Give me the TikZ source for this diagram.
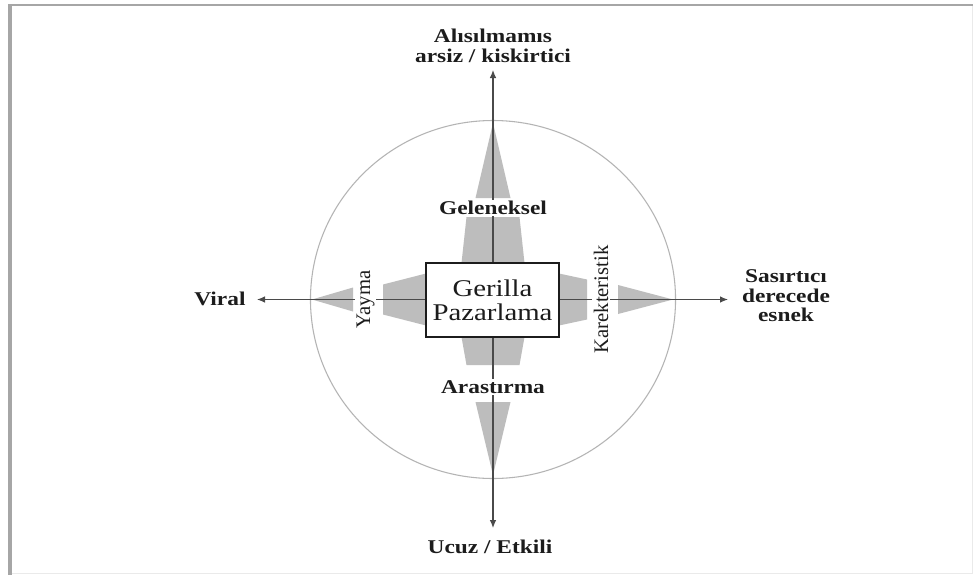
\documentclass[tikz,border=0pt]{standalone}
\usepackage{fontspec}
\setmainfont{Liberation Serif}
\newfontfamily\widefont{Liberation Serif}[FakeStretch=1.2]
\usetikzlibrary{arrows.meta}

\definecolor{axisgray}{HTML}{4A4A4A}
\definecolor{spike}{HTML}{BDBDBD}
\definecolor{ring}{HTML}{B4B4B4}
\definecolor{framegray}{HTML}{A6A6A6}
\definecolor{framelight}{HTML}{EAEAEA}
\definecolor{ink}{HTML}{1C1C1C}

\begin{document}
\begin{tikzpicture}[x=0.75pt,y=-0.75pt,
  axis/.style={draw=axisgray,line width=0.9pt,-{Latex[length=6pt,width=5pt]}},
  spikefill/.style={fill=spike,draw=none},
  outer/.style={font=\widefont\bfseries\fontsize{14.6}{14.6}\selectfont,text=ink,align=center,inner sep=0pt},
  gaplabel/.style={font=\widefont\bfseries\fontsize{14.6}{14.6}\selectfont,text=ink,fill=white,inner sep=1pt},
  sidelabel/.style={font=\fontsize{15.5}{15.5}\selectfont,text=ink,fill=white,inner sep=1pt,rotate=90},
  core/.style={draw=ink,line width=0.8pt,fill=white,font=\widefont\fontsize{18}{18}\selectfont,
    text=ink,align=center,minimum width=99.75pt,minimum height=55.5pt,inner sep=0pt}
]
\useasboundingbox (0,0) rectangle (973,575);
\fill[white] (0,0) rectangle (973,575);

% frame
\draw[framelight,line width=0.75pt] (972,5) -- (972,573.5) -- (10,573.5);
\draw[framegray,line width=1.5pt] (8.5,5) -- (973,5);
\draw[framegray,line width=2.4pt] (10,4) -- (10,575);

% anchor points of the two axes
\coordinate (c) at (493,299.5);
\coordinate (N) at (493,70);
\coordinate (S) at (493,528);
\coordinate (W) at (257,299.5);
\coordinate (E) at (728,299.5);

% outer ring
\draw[ring,line width=0.8pt] (c) ellipse [x radius=136.9pt, y radius=134.25pt];

% grey spikes along the axes
\fill[spikefill] (493,123) -- (475.5,198) -- (510.5,198) -- cycle;
\fill[spikefill] (466.5,217) -- (519.5,217) -- (524.5,263) -- (461.5,263) -- cycle;
\fill[spikefill] (461.5,337) -- (524.5,337) -- (519.5,365) -- (466.5,365) -- cycle;
\fill[spikefill] (475.5,402) -- (510.5,402) -- (493,475) -- cycle;
\fill[spikefill] (426,273.5) -- (383,284.5) -- (383,314.5) -- (426,325.5) -- cycle;
\fill[spikefill] (353,287.5) -- (312,299.5) -- (353,311.5) -- cycle;
\fill[spikefill] (559,273.5) -- (587,279.5) -- (587,319.5) -- (559,325.5) -- cycle;
\fill[spikefill] (618,285) -- (673,299.5) -- (618,314) -- cycle;

% axes
\draw[axis] (c) -- (N);
\draw[axis] (c) -- (S);
\draw[axis] (c) -- (W);
\draw[axis] (c) -- (E);

% labels on the axes
\node[gaplabel,anchor=base] (gel) at (493,214.5) {Geleneksel};
\node[gaplabel,anchor=base] (ara) at (493,393.5) {Arastırma};
\node[sidelabel,anchor=base] (yay) at (370,299.5) {Yayma};
\node[sidelabel,anchor=base] (kar) at (608,299.5) {Karekteristik};

% axis end labels
\node[outer] (top) at (493,46) {Alısılmamıs\\arsiz / kiskirtici};
\node[outer] (bot) at (490,547) {Ucuz / Etkili};
\node[outer] (lft) at (220,299) {Viral};
\node[outer] (rgt) at (786,296) {Sasırtıcı\\derecede\\esnek};

% centre box
\node[core] (gp) at (492.5,300) {Gerilla\\Pazarlama};
\end{tikzpicture}
\end{document}
